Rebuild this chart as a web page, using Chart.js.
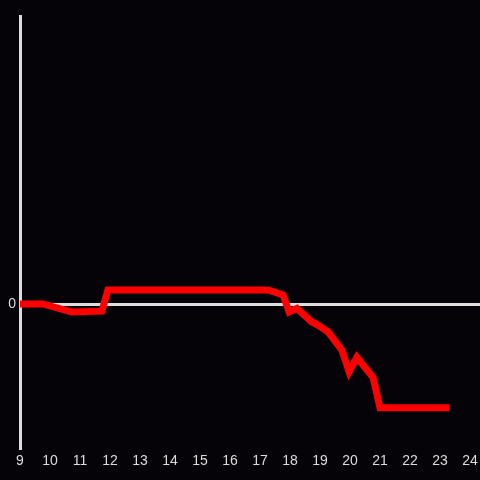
<!DOCTYPE html>
<html>
<head>
<meta charset="utf-8">
<script src="https://cdn.jsdelivr.net/npm/chart.js@4"></script>
<style>
  html, body { margin: 0; padding: 0; background: #050307; }
  #wrap { width: 480px; height: 480px; }
</style>
</head>
<body>
<div id="wrap"><canvas id="chart" width="480" height="480"></canvas></div>
<script>
// hours of the day and the level at each one
const hours = [9, 9.77, 10.73, 11.73, 11.93, 17.27, 17.77, 17.97, 18.23, 18.73, 18.93, 19.27, 19.73, 19.97, 20.23, 20.77, 21.0, 23.2];
const levels = [0, 0, -0.056, -0.05, 0.097, 0.097, 0.0625, -0.055, -0.03, -0.125, -0.146, -0.194, -0.32, -0.47, -0.37, -0.51, -0.72, -0.72];
const xTicks = [9, 10, 11, 12, 13, 14, 15, 16, 17, 18, 19, 20, 21, 22, 23, 24];
const yTicks = [0];

const axisColor = '#dddddd';
const points = hours.map((h, i) => ({ x: h, y: levels[i] }));

const ctx = document.getElementById('chart').getContext('2d');
new Chart(ctx, {
  type: 'line',
  data: {
    datasets: [{
      data: points,
      borderColor: '#ff0000',
      borderWidth: 7,
      borderJoinStyle: 'miter',
      borderCapStyle: 'square',
      pointRadius: 0,
      tension: 0,
      fill: false
    }]
  },
  options: {
    responsive: false,
    animation: false,
    layout: { padding: { top: 16, left: 0, right: 0, bottom: 0 } },
    plugins: { legend: { display: false }, tooltip: { enabled: false } },
    scales: {
      x: {
        type: 'linear',
        min: 9,
        max: 24.333,
        afterBuildTicks: (axis) => { axis.ticks = xTicks.map(v => ({ value: v })); },
        afterFit: (axis) => {
          axis.height = 32;
          axis.paddingLeft = 0;
          axis.paddingRight = 0;
        },
        ticks: {
          color: axisColor,
          font: { family: 'Liberation Sans', size: 14 },
          padding: 5,
          maxRotation: 0,
          autoSkip: false
        },
        grid: { display: false, drawTicks: false },
        border: { display: false }
      },
      y: {
        min: -1,
        max: 2,
        afterBuildTicks: (axis) => { axis.ticks = yTicks.map(v => ({ value: v })); },
        afterFit: (axis) => { axis.width = 20; },
        ticks: {
          color: axisColor,
          font: { family: 'Liberation Sans', size: 14 },
          padding: 4
        },
        grid: { color: axisColor, lineWidth: 3, drawTicks: false },
        border: { display: true, color: axisColor, width: 3 }
      }
    }
  }
});
</script>
</body>
</html>
